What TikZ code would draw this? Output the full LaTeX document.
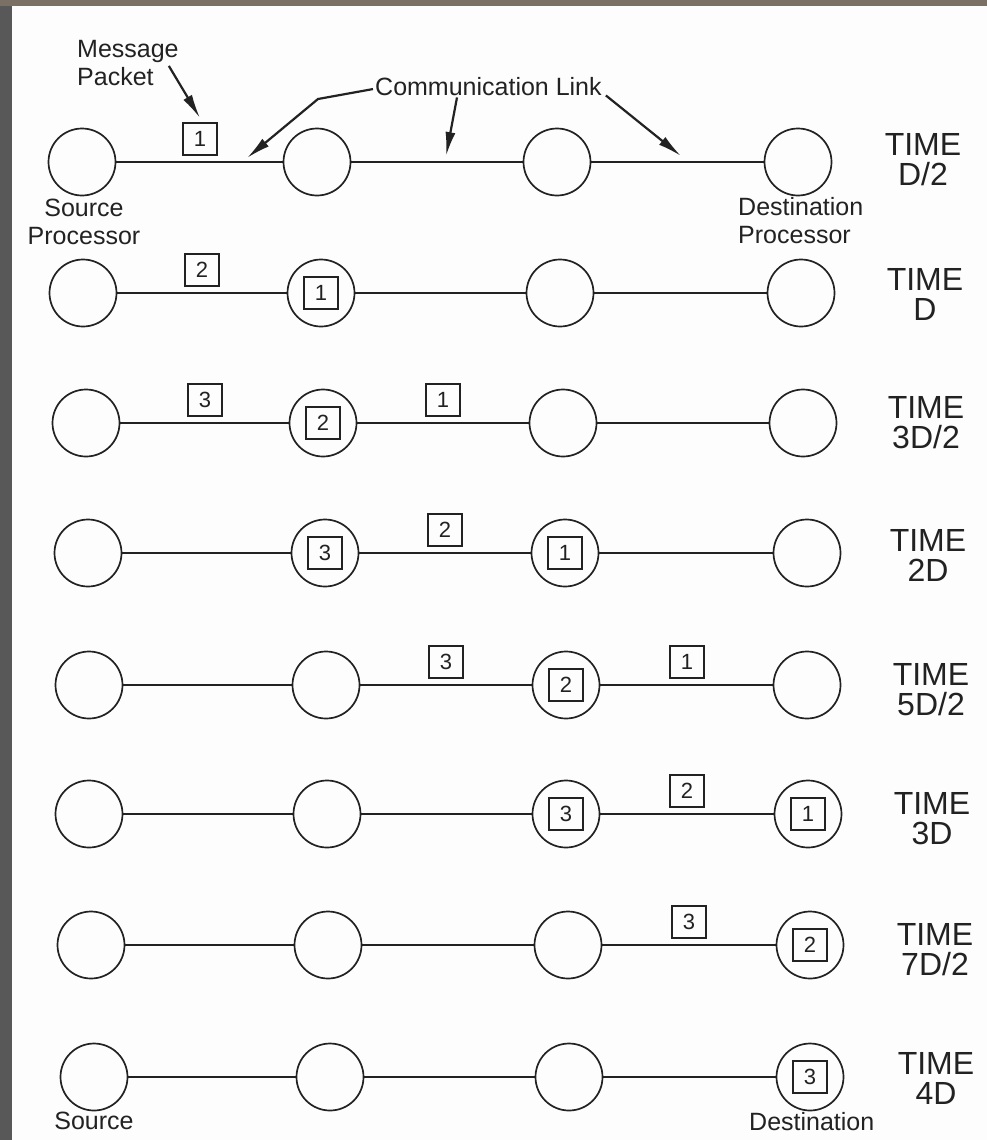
\documentclass[tikz,border=0pt]{standalone}
\usepackage{fontspec}
\setmainfont{Liberation Sans}
\usetikzlibrary{arrows.meta,calc}
\definecolor{ink}{RGB}{34,34,34}
\definecolor{topband}{RGB}{122,112,102}
\definecolor{sideband}{RGB}{88,88,88}
\definecolor{paper}{RGB}{253,253,253}
\tikzset{
  proc/.style={circle, draw=ink, line width=1.7pt, minimum size=67pt, inner sep=0pt},
  pkt/.style={draw=ink, line width=1.8pt, minimum width=34pt, minimum height=32pt, inner sep=0pt, font=\fontsize{22}{22}\selectfont, text=ink},
  link/.style={draw=ink, line width=1.9pt},
  lbl/.style={font=\fontsize{25}{28}\selectfont, text=ink, inner sep=0pt},
  timelbl/.style={font=\fontsize{32}{30}\selectfont, align=center, text=ink, inner sep=0pt},
  pointer/.style={draw=ink, line width=2.2pt, -{Latex[length=24pt,width=10pt]}}
}
\begin{document}
\begin{tikzpicture}[x=1pt,y=-1pt]
\useasboundingbox (0,0) rectangle (987,1140);
\fill[paper] (0,0) rectangle (987,1140);
\fill[sideband] (0,0) rectangle (12,1140);
\fill[topband] (0,0) rectangle (987,6);

% processors and links
\foreach \r/\y/\a/\b/\c/\d in {1/162/82/317/557/798, 2/293/83/321/560/801, 3/423/86/323/563/803,
  4/553/88/325/565/807, 5/685/89/326/566/807, 6/814/89/327/566/808, 7/945/91/328/568/810, 8/1077/94/330/569/810}{
  \node[proc] (c\r-1) at (\a,\y) {};
  \node[proc] (c\r-2) at (\b,\y) {};
  \node[proc] (c\r-3) at (\c,\y) {};
  \node[proc] (c\r-4) at (\d,\y) {};
  \draw[link] (c\r-1) -- (c\r-2);
  \draw[link] (c\r-2) -- (c\r-3);
  \draw[link] (c\r-3) -- (c\r-4);
}

% packets on links
\node[pkt] (p1-1) at (200,139) {1};
\node[pkt] (p2-2) at (202,270) {2};
\node[pkt] (p3-3) at (205,400) {3};
\node[pkt] (p3-1) at (443,400) {1};
\node[pkt] (p4-2) at (445,530) {2};
\node[pkt] (p5-3) at (446,662) {3};
\node[pkt] (p5-1) at (687,662) {1};
\node[pkt] (p6-2) at (687,791) {2};
\node[pkt] (p7-3) at (689,922) {3};

% packets inside processors
\node[pkt] (q2-1) at (c2-2) {1};
\node[pkt] (q3-2) at (c3-2) {2};
\node[pkt] (q4-3) at (c4-2) {3};
\node[pkt] (q4-1) at (c4-3) {1};
\node[pkt] (q5-2) at (c5-3) {2};
\node[pkt] (q6-3) at (c6-3) {3};
\node[pkt] (q6-1) at (c6-4) {1};
\node[pkt] (q7-2) at (c7-4) {2};
\node[pkt] (q8-3) at (c8-4) {3};

% time labels
\node[timelbl] (t1) at (923,160) {TIME\\D/2};
\node[timelbl] (t2) at (925,294) {TIME\\D};
\node[timelbl] (t3) at (926,423) {TIME\\3D/2};
\node[timelbl] (t4) at (928,555) {TIME\\2D};
\node[timelbl] (t5) at (931,690) {TIME\\5D/2};
\node[timelbl] (t6) at (932,819) {TIME\\3D};
\node[timelbl] (t7) at (935,950) {TIME\\7D/2};
\node[timelbl] (t8) at (936,1078) {TIME\\4D};

% annotations
\node[lbl, align=left, anchor=north west] (msg) at (77,40) {Message\\Packet};
\node[lbl, align=center, anchor=north] (src) at (84,199) {Source\\Processor};
\node[lbl, align=left, anchor=north west] (dst) at (738,197) {Destination\\Processor};
\node[lbl, anchor=base west, inner sep=2pt] (comm) at (373,95) {Communication Link};
\node[lbl, anchor=north] (src8) at (94,1112) {Source};
\node[lbl, anchor=north west] (dst8) at (749,1112) {Destination};

\coordinate (tipM) at (200,118);
\coordinate (tipA) at (247,158);
\coordinate (bendA) at (318,99);
\coordinate (tipB) at (446,156);
\coordinate (tipC) at (681,156);

\draw[pointer] ([xshift=-10pt,yshift=-3pt]msg.east) -- (tipM);
\draw[pointer] ([yshift=-3pt]comm.west) -- (bendA) -- (tipA);
\draw[pointer] ([xshift=84pt]comm.south west) -- (tipB);
\draw[pointer] ([xshift=2pt,yshift=2pt]comm.south east) -- (tipC);
\end{tikzpicture}
\end{document}
